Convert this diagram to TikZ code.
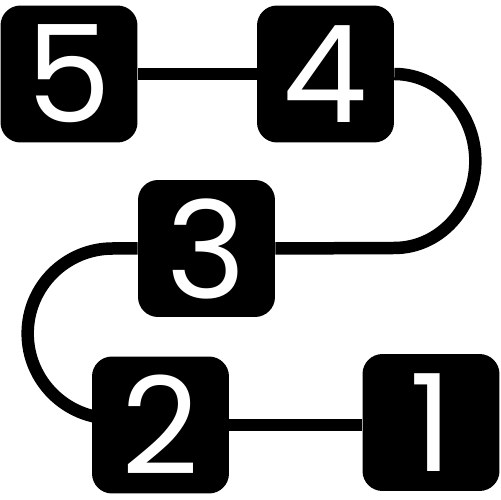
\documentclass[tikz,border=0pt]{standalone}
\usepackage{fontspec}
\newfontfamily\digitfont{Poppins}
\usetikzlibrary{backgrounds}

\begin{document}
\begin{tikzpicture}[line cap=round,line join=round,x=0.02cm,y=0.02cm,
    numbox/.style={fill=black,rounded corners=0.4cm,minimum size=2.74cm,inner sep=0pt,
        text=white,font=\digitfont\fontsize{77}{77}\selectfont},
    link/.style={draw=black,line width=0.25cm,line cap=butt}]
                \useasboundingbox (0,0) rectangle (500,500);
                \node [numbox] (n5) at (69,426) {5};
                \node [numbox] (n4) at (325.5,426) {4};
                \node [numbox] (n3) at (206.5,251.5) {3};
                \node [numbox] (n2) at (160.5,75) {2};
                \node [numbox] (n1) at (431,77.5) {1};
                \begin{pgfonlayer}{background}
                    \draw [link] (n5) -- (n4);
                    \draw [link] (n4.east) arc[start angle=90,end angle=-90,x radius=81,y radius=87] -- (n3.east);
                    \draw [link] (n3.west) -- ++(-25,0) arc[start angle=90,end angle=270,radius=85] -- (n2.center);
                    \draw [link] (n2.east) -- (n2.east -| n1.west);
                \end{pgfonlayer}
            \end{tikzpicture}
\end{document}
